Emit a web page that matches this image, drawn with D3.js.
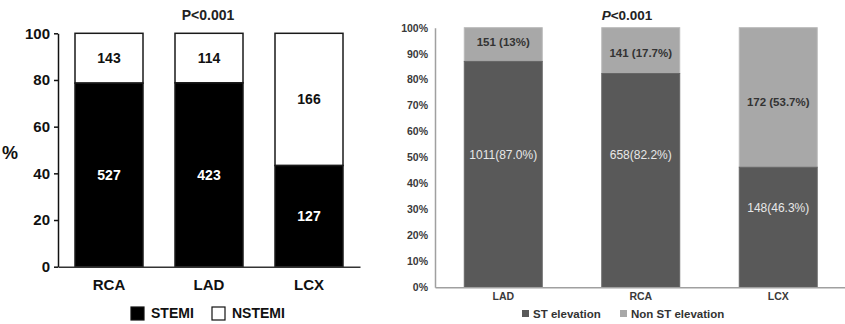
<!DOCTYPE html>
<html>
<head>
<meta charset="utf-8">
<script src="https://cdn.jsdelivr.net/npm/d3@7"></script>
<style>
  body { margin: 0; background: #fff; }
  svg { font-family: "Liberation Sans", Arial, sans-serif; }
</style>
</head>
<body>
<div id="chart"></div>
<script>
// linke Grafik: Anzahl STEMI / NSTEMI je Gefäß
const leftCategories = ["RCA", "LAD", "LCX"];
const leftStemi = [527, 423, 127];
const leftNstemi = [143, 114, 166];
const leftTicks = [0, 20, 40, 60, 80, 100];

// rechte Grafik: ST-Hebung ja/nein je Gefäß
const rightCategories = ["LAD", "RCA", "LCX"];
const rightSte = [1011, 658, 148];
const rightNonSte = [151, 141, 172];
const rightStePct = ["87.0", "82.2", "46.3"];
const rightNonStePct = ["13", "17.7", "53.7"];
// wo die Beschriftungen im Original sitzen (in %)
const rightSteLabelAt = [51, 51, 30.5];
const rightNonSteLabelAt = [94.5, 90.4, 71.5];
const rightTicks = [0, 10, 20, 30, 40, 50, 60, 70, 80, 90, 100];

const width = 845, height = 324;

const svg = d3.select("#chart").append("svg")
  .attr("width", width)
  .attr("height", height);

// ---------- links ----------
{
  const g = svg.append("g");
  const x = d3.scaleBand().domain(leftCategories).range([58, 360])
    .paddingInner(0.32).paddingOuter(0.17);
  const y = d3.scaleLinear().domain([0, 100]).range([266.7, 33.3]);

  const rows = leftCategories.map((c, i) => {
    const tot = leftStemi[i] + leftNstemi[i];
    return { c, s: leftStemi[i], n: leftNstemi[i], sp: leftStemi[i] / tot * 100 };
  });

  // NSTEMI (weiß, oben)
  g.selectAll(".ns").data(rows).enter().append("rect")
    .attr("x", d => x(d.c)).attr("width", x.bandwidth())
    .attr("y", y(100)).attr("height", d => y(d.sp) - y(100))
    .attr("fill", "#fff").attr("stroke", "#1a1a1a").attr("stroke-width", 1.5);
  // STEMI (schwarz, unten)
  g.selectAll(".st").data(rows).enter().append("rect")
    .attr("x", d => x(d.c)).attr("width", x.bandwidth())
    .attr("y", d => y(d.sp)).attr("height", d => y(0) - y(d.sp))
    .attr("fill", "#000").attr("stroke", "#1a1a1a").attr("stroke-width", 1.5);

  g.selectAll(".lt").data(rows).enter().append("text")
    .attr("x", d => x(d.c) + x.bandwidth() / 2)
    .attr("y", d => y((100 + d.sp) / 2))
    .attr("dy", "0.35em").attr("text-anchor", "middle")
    .attr("font-size", 14).attr("font-weight", "bold").attr("fill", "#111")
    .text(d => d.n);
  g.selectAll(".lb").data(rows).enter().append("text")
    .attr("x", d => x(d.c) + x.bandwidth() / 2)
    .attr("y", d => y(d.sp / 2))
    .attr("dy", "0.35em").attr("text-anchor", "middle")
    .attr("font-size", 14).attr("font-weight", "bold").attr("fill", "#fff")
    .text(d => d.s);

  const yAxis = g.append("g").attr("transform", "translate(58,0)")
    .call(d3.axisLeft(y).tickValues(leftTicks).tickSize(4).tickSizeOuter(0).tickPadding(4));
  yAxis.select(".domain").attr("stroke", "#111").attr("stroke-width", 1.5);
  yAxis.selectAll(".tick line").attr("stroke", "#111").attr("stroke-width", 1.5);
  yAxis.selectAll("text").attr("font-size", 15).attr("font-weight", "bold")
    .attr("fill", "#111").attr("font-family", null);

  const xAxis = g.append("g").attr("transform", `translate(0,${y(0)})`)
    .call(d3.axisBottom(x).tickSize(0).tickPadding(13));
  xAxis.select(".domain").attr("stroke", "#333").attr("stroke-width", 1.5);
  xAxis.selectAll("text").attr("font-size", 15).attr("font-weight", "bold")
    .attr("fill", "#111").attr("font-family", null);

  g.append("text").attr("x", 208).attr("y", 15).attr("dy", "0.35em")
    .attr("text-anchor", "middle").attr("font-size", 14).attr("font-weight", "bold")
    .attr("fill", "#222").text("P<0.001");
  g.append("text").attr("x", 10).attr("y", 153).attr("dy", "0.35em")
    .attr("text-anchor", "middle").attr("font-size", 18).attr("font-weight", "bold")
    .attr("fill", "#111").text("%");

  // Legende
  const leg = [{ t: "STEMI", f: "#000", x: 131 }, { t: "NSTEMI", f: "#fff", x: 212 }];
  leg.forEach(l => {
    g.append("rect").attr("x", l.x).attr("y", 307).attr("width", 13).attr("height", 13)
      .attr("fill", l.f).attr("stroke", "#111").attr("stroke-width", 1.2);
    g.append("text").attr("x", l.x + 20).attr("y", 313.5).attr("dy", "0.35em")
      .attr("font-size", 14).attr("font-weight", "bold").attr("fill", "#111").text(l.t);
  });
}

// ---------- rechts ----------
{
  const g = svg.append("g");
  const dark = "#595959", light = "#a8a8a8";
  const x = d3.scaleBand().domain(rightCategories).range([435, 846.5])
    .paddingInner(0.433).paddingOuter(0.213);
  const y = d3.scaleLinear().domain([0, 100]).range([287.3, 27.7]);

  const rows = rightCategories.map((c, i) => {
    const tot = rightSte[i] + rightNonSte[i];
    return {
      c, s: rightSte[i], n: rightNonSte[i], sp: rightSte[i] / tot * 100,
      spl: rightStePct[i], npl: rightNonStePct[i],
      sAt: rightSteLabelAt[i], nAt: rightNonSteLabelAt[i]
    };
  });

  g.selectAll(".ns").data(rows).enter().append("rect")
    .attr("x", d => x(d.c)).attr("width", x.bandwidth())
    .attr("y", y(100)).attr("height", d => y(d.sp) - y(100))
    .attr("fill", light).attr("stroke", "#b8b8b8").attr("stroke-width", 1);
  g.selectAll(".st").data(rows).enter().append("rect")
    .attr("x", d => x(d.c)).attr("width", x.bandwidth())
    .attr("y", d => y(d.sp)).attr("height", d => y(0) - y(d.sp))
    .attr("fill", dark).attr("stroke", "#666").attr("stroke-width", 1);

  g.selectAll(".lt").data(rows).enter().append("text")
    .attr("x", d => x(d.c) + x.bandwidth() / 2)
    .attr("y", d => y(d.nAt))
    .attr("dy", "0.35em").attr("text-anchor", "middle")
    .attr("font-size", 11.5).attr("font-weight", "bold").attr("fill", "#333")
    .text(d => `${d.n} (${d.npl}%)`);
  g.selectAll(".lb").data(rows).enter().append("text")
    .attr("x", d => x(d.c) + x.bandwidth() / 2)
    .attr("y", d => y(d.sAt))
    .attr("dy", "0.35em").attr("text-anchor", "middle")
    .attr("font-size", 12).attr("fill", "#e8e8e8")
    .text(d => `${d.s}(${d.spl}%)`);

  const yAxis = g.append("g").attr("transform", "translate(435,0)")
    .call(d3.axisLeft(y).tickValues(rightTicks).tickSize(0).tickPadding(7)
      .tickFormat(d => d + "%"));
  yAxis.select(".domain").attr("stroke", "#a0a0a0").attr("stroke-width", 1.5);
  yAxis.selectAll("text").attr("font-size", 10.5).attr("font-weight", "bold")
    .attr("fill", "#3a3a3a").attr("font-family", null);

  const xAxis = g.append("g").attr("transform", `translate(0,${y(0)})`)
    .call(d3.axisBottom(x).tickSize(0).tickPadding(5));
  xAxis.select(".domain").attr("stroke", "#a0a0a0").attr("stroke-width", 1.5);
  xAxis.selectAll("text").attr("font-size", 10.5).attr("font-weight", "bold")
    .attr("fill", "#3a3a3a").attr("font-family", null);

  const title = g.append("text").attr("x", 627).attr("y", 15).attr("dy", "0.35em")
    .attr("text-anchor", "middle").attr("font-size", 13.5).attr("font-weight", "bold")
    .attr("fill", "#222");
  title.append("tspan").attr("font-style", "italic").text("P");
  title.append("tspan").text("<0.001");

  const leg = [{ t: "ST elevation", f: dark, x: 522 }, { t: "Non ST elevation", f: light, x: 620 }];
  leg.forEach(l => {
    g.append("rect").attr("x", l.x).attr("y", 310).attr("width", 7).attr("height", 7)
      .attr("fill", l.f);
    g.append("text").attr("x", l.x + 11).attr("y", 313.5).attr("dy", "0.35em")
      .attr("font-size", 11.5).attr("font-weight", "bold").attr("fill", "#333").text(l.t);
  });
}
</script>
</body>
</html>
